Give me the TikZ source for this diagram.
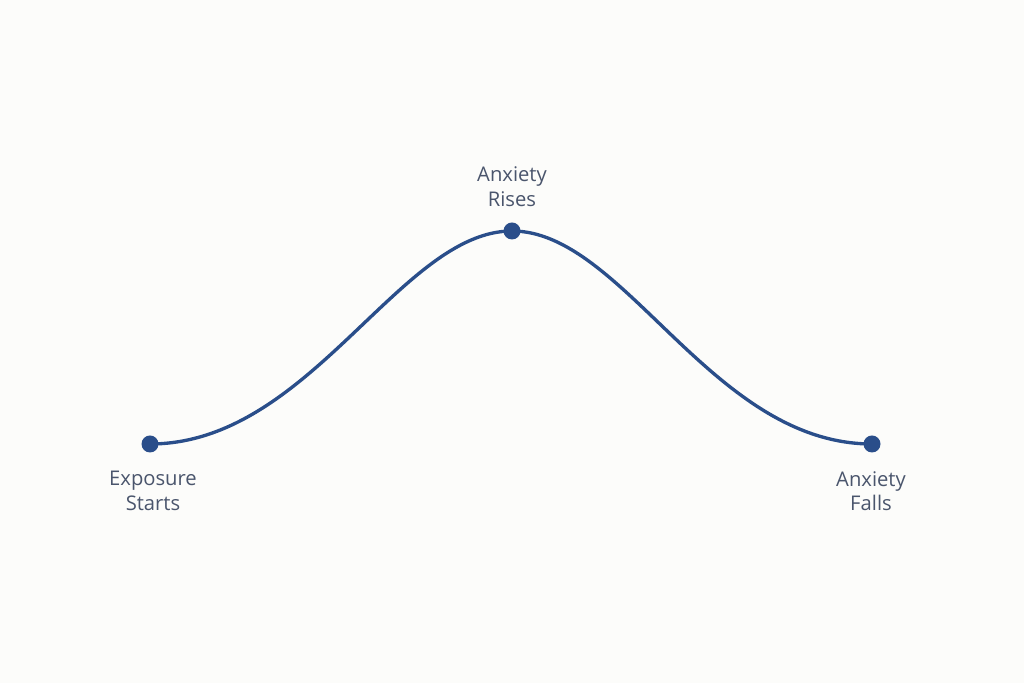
\documentclass[tikz,border=0pt]{standalone}
\usepackage{fontspec}
\setmainfont{Open Sans}
\usetikzlibrary{positioning}
\definecolor{curveblue}{HTML}{2A4E8A}
\definecolor{labelgray}{HTML}{4A556C}
\definecolor{paper}{HTML}{FCFCFA}
\begin{document}
\begin{tikzpicture}[
    dot/.style={circle, fill=curveblue, inner sep=0pt, minimum size=0.34cm},
    lbl/.style={align=center, text=labelgray, font=\fontsize{11.5}{14.2}\selectfont, inner sep=0pt}
  ]
    \fill[paper] (0,0) rectangle (20.48,13.66);
    \useasboundingbox (0,0) rectangle (20.48,13.66);
    \draw[curveblue, line width=1.9pt] (3,4.78) .. controls (6.2,4.78) and (8,9.04) .. (10.24,9.04)
        .. controls (12.48,9.04) and (14.24,4.78) .. (17.44,4.78);
    \node[dot] (start) at (3,4.78) {};
    \node[dot] (peak) at (10.24,9.04) {};
    \node[dot] (finish) at (17.44,4.78) {};
    \node[lbl, below=0.36cm of start, xshift=0.06cm] (startlbl) {Exposure\\Starts};
    \node[lbl, above=0.3cm of peak] (peaklbl) {Anxiety\\Rises};
    \node[lbl, below=0.36cm of finish, xshift=-0.02cm] (finishlbl) {Anxiety\\Falls};
  \end{tikzpicture}
\end{document}
